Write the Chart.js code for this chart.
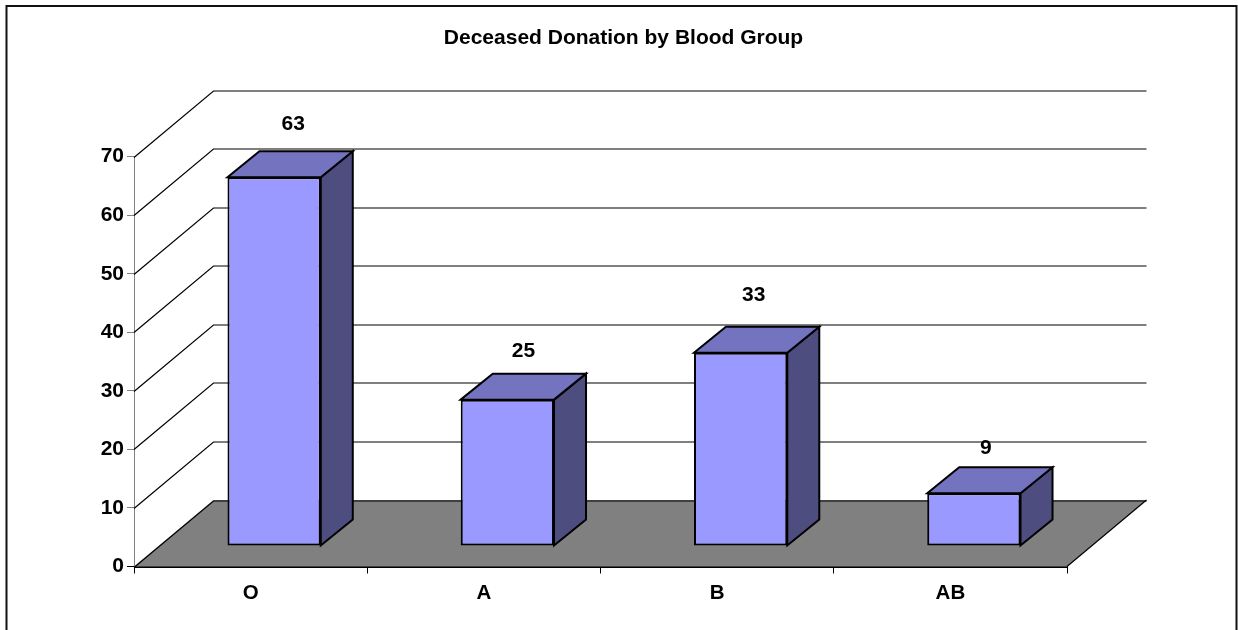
<!DOCTYPE html>
<html>
<head>
<meta charset="utf-8">
<style>html,body{margin:0;padding:0;background:#fff;overflow:hidden}canvas{display:block}</style>
<script src="https://cdn.jsdelivr.net/npm/chart.js@4/dist/chart.umd.js"></script>
</head>
<body>
<canvas id="c" width="1238" height="630"></canvas>
<script>
const categories = ['O', 'A', 'B', 'AB'];
const donations = [63, 25, 33, 9];
const titleText = 'Deceased Donation by Blood Group';

const FONT = '"Liberation Sans", Arial, sans-serif';
const wallDepth = { x: 79.5, y: -66.5 };
const barDepth = { x: 32, y: -26 };
const barShift = { x: 23.5, y: -20.5 };
const labelNudge = [{ x: 19, y: -52.8 }, { x: 16, y: -48.8 }, { x: 13, y: -57.8 }, { x: 12, y: -44.8 }];

function poly(ctx, pts, fill, stroke, lw) {
  ctx.beginPath();
  pts.forEach((p, i) => i ? ctx.lineTo(p[0], p[1]) : ctx.moveTo(p[0], p[1]));
  ctx.closePath();
  if (fill) { ctx.fillStyle = fill; ctx.fill(); }
  if (stroke) { ctx.strokeStyle = stroke; ctx.lineWidth = lw; ctx.lineJoin = 'miter'; ctx.stroke(); }
}

const scene3d = {
  id: 'scene3d',
  beforeDraw(chart) {
    const ctx = chart.ctx;
    ctx.save();
    ctx.fillStyle = '#fff';
    ctx.fillRect(0, 0, chart.width, chart.height);
    ctx.strokeStyle = '#111';
    ctx.lineWidth = 2;
    ctx.strokeRect(6.5, 6, 1230, 700);
    ctx.restore();
  },
  beforeDatasetsDraw(chart) {
    const { ctx, chartArea: a, scales: { y } } = chart;
    const dx = wallDepth.x, dy = wallDepth.y;
    ctx.save();
    const y0 = y.getPixelForValue(0);
    poly(ctx, [[a.left, y0], [a.right, y0], [a.right + dx, y0 + dy], [a.left + dx, y0 + dy]], '#808080');
    ctx.lineWidth = 1.2;
    ctx.strokeStyle = '#000';
    y.ticks.forEach(t => {
      const py = Math.round(y.getPixelForValue(t.value)) + 0.5;
      ctx.beginPath();
      ctx.moveTo(a.left, py);
      ctx.lineTo(a.left + dx, py + dy);
      ctx.lineTo(a.right + dx, py + dy);
      ctx.stroke();
    });
    ctx.beginPath();
    ctx.moveTo(a.right, y0);
    ctx.lineTo(a.right + dx, y0 + dy);
    ctx.stroke();
    ctx.beginPath();
    ctx.moveTo(a.left, Math.round(y0) + 0.5);
    ctx.lineTo(a.right, Math.round(y0) + 0.5);
    ctx.stroke();
    ctx.restore();
  },
  beforeDatasetDraw(chart, args) {
    const ctx = chart.ctx;
    const meta = chart.getDatasetMeta(args.index);
    ctx.save();
    ctx.translate(barShift.x, barShift.y);
    const dx = barDepth.x, dy = barDepth.y;
    meta.data.forEach(el => {
      const p = el.getProps(['x', 'y', 'base', 'width'], true);
      const l = p.x - p.width / 2, r = p.x + p.width / 2;
      poly(ctx, [[r, p.y], [r + dx, p.y + dy], [r + dx, p.base + dy], [r, p.base]], '#4D4D80', '#000', 2);
      poly(ctx, [[l, p.y], [l + dx, p.y + dy], [r + dx, p.y + dy], [r, p.y]], '#7373BF', '#000', 2);
    });
  },
  afterDatasetDraw(chart) {
    chart.ctx.restore();
  },
  afterDatasetsDraw(chart) {
    const { ctx } = chart;
    const meta = chart.getDatasetMeta(0);
    ctx.save();
    ctx.font = 'bold 21px ' + FONT;
    ctx.fillStyle = '#000';
    ctx.textAlign = 'center';
    ctx.textBaseline = 'middle';
    meta.data.forEach((el, i) => {
      const p = el.getProps(['x', 'y'], true);
      ctx.fillText(String(donations[i]), p.x + barShift.x + labelNudge[i].x, p.y + barShift.y + labelNudge[i].y);
    });
    ctx.restore();
  }
};

new Chart(document.getElementById('c'), {
  type: 'bar',
  data: {
    labels: categories,
    datasets: [{
      label: 'Deceased donation',
      data: donations,
      backgroundColor: '#9999FF',
      borderColor: '#000',
      borderWidth: 2,
      borderSkipped: false,
      barPercentage: 0.4,
      categoryPercentage: 1,
      clip: false
    }]
  },
  options: {
    responsive: false,
    animation: false,
    devicePixelRatio: 1,
    layout: { padding: { left: 9, right: 0, top: 25.5, bottom: 0 } },
    plugins: {
      legend: { display: false },
      tooltip: { enabled: false },
      title: {
        display: true,
        text: titleText,
        color: '#000',
        font: { family: FONT, size: 21, weight: 'bold' },
        padding: { top: 0, bottom: 106 }
      }
    },
    scales: {
      x: {
        grid: { offset: true, drawOnChartArea: false, color: '#000', tickLength: 7 },
        border: { color: '#000' },
        ticks: { color: '#000', font: { family: FONT, size: 20.5, weight: 'bold' }, padding: 7.5, maxRotation: 0 },
        afterFit(s) { s.height = 63.5; }
      },
      y: {
        min: 0, max: 70,
        grid: { drawOnChartArea: false, color: c => (c.tick && c.tick.value === 0 ? '#000' : '#808080'), tickLength: 7 },
        border: { color: '#808080' },
        ticks: { stepSize: 10, color: '#000', font: { family: FONT, size: 21, weight: 'bold' }, padding: 3 },
        afterFit(s) { s.width = 125; }
      },
      spacer: {
        position: 'right',
        display: true,
        grid: { display: false },
        border: { display: false },
        ticks: { display: false },
        afterFit(s) { s.width = 171; }
      }
    }
  },
  plugins: [scene3d]
});
</script>
</body>
</html>
